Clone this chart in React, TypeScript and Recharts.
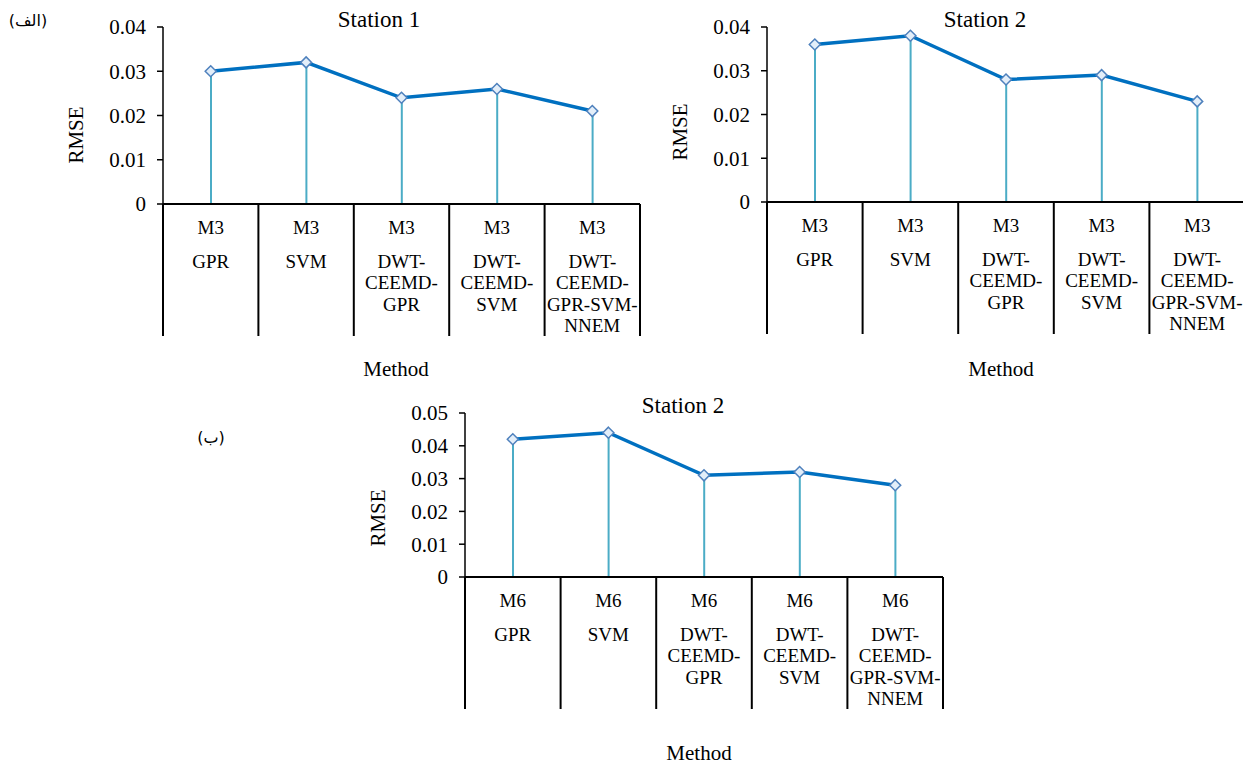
import { ComposedChart, Bar, Line, XAxis, YAxis } from "recharts";

const methods = ["GPR", "SVM", "DWT-CEEMD-GPR", "DWT-CEEMD-SVM", "DWT-CEEMD-GPR-SVM-NNEM"];
const methodLines = [
  ["GPR"],
  ["SVM"],
  ["DWT-", "CEEMD-", "GPR"],
  ["DWT-", "CEEMD-", "SVM"],
  ["DWT-", "CEEMD-", "GPR-SVM-", "NNEM"],
];

const station1M3 = [0.03, 0.032, 0.024, 0.026, 0.021];
const station2M3 = [0.036, 0.038, 0.028, 0.029, 0.023];
const station2M6 = [0.042, 0.044, 0.031, 0.032, 0.028];

const ticksTop = [0, 0.01, 0.02, 0.03, 0.04];
const ticksBottom = [0, 0.01, 0.02, 0.03, 0.04, 0.05];

const FONT = '"Times New Roman", "Liberation Serif", serif';
const LINE = "#0070C0";
const DROP = "#4BACC6";

const Y_W = 60;
const LEFT = 163;
const TOP = 27;
const X_H = 140;

function Diamond(props: any) {
  const { cx, cy } = props;
  if (cx == null || cy == null) return null;
  const r = 5.5;
  return (
    <path
      d={`M${cx},${cy - r}L${cx + r},${cy}L${cx},${cy + r}L${cx - r},${cy}Z`}
      fill="#E3EEF9"
      stroke="#4F81BD"
      strokeWidth={1.5}
    />
  );
}

function MethodTick(props: any) {
  const { x, y, payload, band, model, last } = props;
  const i = methods.indexOf(payload.value);
  const lines = methodLines[i] || [];
  const half = band / 2;
  return (
    <g>
      <line x1={x - half} y1={y} x2={x - half} y2={y + 132} stroke="#000" strokeWidth={2} />
      {i === last && (
        <line x1={x + half} y1={y} x2={x + half} y2={y + 132} stroke="#000" strokeWidth={2} />
      )}
      <text x={x} y={y + 30} textAnchor="middle" fontFamily={FONT} fontSize={19} fill="#000">
        {model}
      </text>
      {lines.map((t, k) => (
        <text
          key={k}
          x={x}
          y={y + 64 + k * 21.3}
          textAnchor="middle"
          fontFamily={FONT}
          fontSize={19}
          fill="#000"
        >
          {t}
        </text>
      ))}
    </g>
  );
}

type PanelProps = {
  values: number[];
  model: string;
  yTicks: number[];
  plotW: number;
  plotH: number;
  left: number;
  top: number;
};

function Panel({ values, model, yTicks, plotW, plotH, left, top }: PanelProps) {
  const data = methods.map((m, i) => ({ method: m, rmse: values[i] }));
  const band = plotW / methods.length;
  const width = LEFT + plotW + 20;
  const height = TOP + plotH + X_H;
  return (
    <div style={{ position: "absolute", left, top }}>
      <ComposedChart
        width={width}
        height={height}
        data={data}
        margin={{ top: TOP, right: 20, bottom: 0, left: LEFT - Y_W }}
      >
        <XAxis
          dataKey="method"
          height={X_H}
          axisLine={{ stroke: "#000", strokeWidth: 2 }}
          tickLine={false}
          tickSize={0}
          tickMargin={0}
          interval={0}
          tick={<MethodTick band={band} model={model} last={methods.length - 1} />}
        />
        <YAxis
          width={Y_W}
          domain={[yTicks[0], yTicks[yTicks.length - 1]]}
          ticks={yTicks}
          interval={0}
          axisLine={{ stroke: "#000", strokeWidth: 1.5 }}
          tickLine={{ stroke: "#000", strokeWidth: 1.5 }}
          tickSize={6}
          tickMargin={11}
          tick={{ fontFamily: FONT, fontSize: 21, fill: "#000" }}
        />
        <Bar dataKey="rmse" barSize={2} fill={DROP} isAnimationActive={false} />
        <Line
          dataKey="rmse"
          stroke={LINE}
          strokeWidth={3.5}
          dot={<Diamond />}
          activeDot={false}
          isAnimationActive={false}
        />
      </ComposedChart>
    </div>
  );
}

const txt = { fontFamily: FONT, fill: "#000" };

export default function App() {
  return (
    <div
      style={{
        position: "absolute",
        left: 0,
        top: 0,
        width: 1243,
        height: 764,
        overflow: "hidden",
        background: "#fff",
      }}
    >
      <Panel values={station1M3} model="M3" yTicks={ticksTop} plotW={477} plotH={177} left={0} top={0} />
      <Panel values={station2M3} model="M3" yTicks={ticksTop} plotW={478} plotH={175} left={604} top={0} />
      <Panel values={station2M6} model="M6" yTicks={ticksBottom} plotW={478} plotH={164} left={302} top={386} />
      <svg
        width={1243}
        height={764}
        style={{ position: "absolute", left: 0, top: 0, pointerEvents: "none" }}
      >
        <text x={379} y={27} textAnchor="middle" fontSize={23} {...txt}>Station 1</text>
        <text x={985} y={27} textAnchor="middle" fontSize={23} {...txt}>Station 2</text>
        <text x={683} y={413} textAnchor="middle" fontSize={23} {...txt}>Station 2</text>

        <text transform="translate(83,135) rotate(-90)" textAnchor="middle" fontSize={21} {...txt}>RMSE</text>
        <text transform="translate(687,132) rotate(-90)" textAnchor="middle" fontSize={21} {...txt}>RMSE</text>
        <text transform="translate(385,518) rotate(-90)" textAnchor="middle" fontSize={21} {...txt}>RMSE</text>

        <text x={396} y={376} textAnchor="middle" fontSize={21} {...txt}>Method</text>
        <text x={1001} y={376} textAnchor="middle" fontSize={21} {...txt}>Method</text>
        <text x={699} y={760} textAnchor="middle" fontSize={21} {...txt}>Method</text>

        <text x={28} y={26} textAnchor="middle" fontSize={16} fontFamily='"DejaVu Sans", sans-serif'>(الف)</text>
        <text x={211} y={443} textAnchor="middle" fontSize={16} fontFamily='"DejaVu Sans", sans-serif'>(ب)</text>
      </svg>
    </div>
  );
}
